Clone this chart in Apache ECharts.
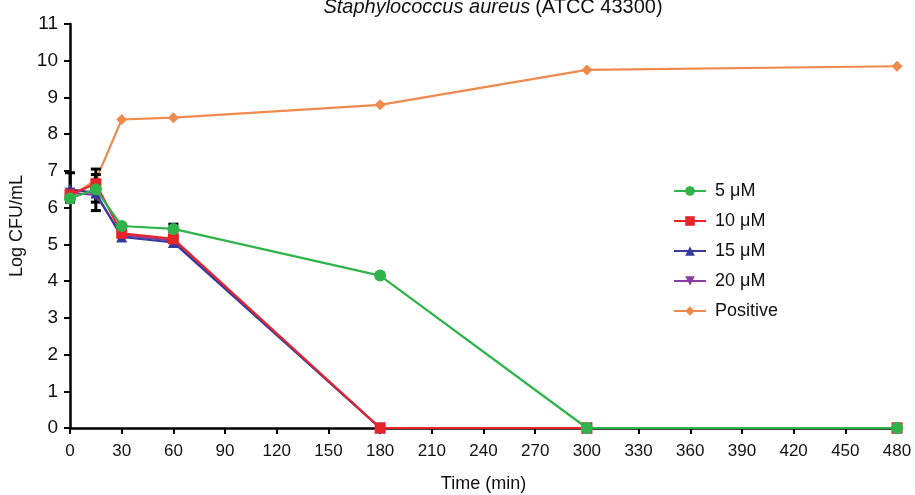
<!DOCTYPE html>
<html>
<head>
<meta charset="utf-8">
<script src="https://cdn.jsdelivr.net/npm/echarts@6/dist/echarts.min.js"></script>
<style>
  html, body { margin: 0; padding: 0; background: #fff; }
  #main { width: 915px; height: 495px; }
</style>
</head>
<body>
<div id="main"></div>
<script>
// time points (min)
const times = [0, 15, 30, 60, 180, 300, 480];

// Log CFU/mL per treatment
const uM5 = [6.25, 6.5, 5.5, 5.42, 4.15, 0, 0];
const uM10 = [6.35, 6.65, 5.3, 5.15, 0, 0, 0];
const uM15 = [6.5, 6.4, 5.2, 5.05, 0, 0, 0];
const uM20 = [6.4, 6.35, 5.25, 5.1, 0, 0, 0];
const positive = [6.3, 6.75, 8.4, 8.45, 8.8, 9.75, 9.85];

// error bars (black) at the early points
const errX = [0, 15, 15, 60];
const errLow = [6.15, 5.92, 6.15, 5.35];
const errHigh = [6.95, 7.05, 6.9, 5.55];

const font = 'Liberation Sans, Arial, sans-serif';
const downTriangle = 'path://M0,0 L10,0 L5,9 Z';

function pairs(vals) {
  return times.map((t, i) => [t, vals[i]]);
}

function lineSeries(name, vals, color, symbol, size, z) {
  return {
    name: name,
    type: 'line',
    data: pairs(vals),
    symbol: symbol,
    symbolSize: size,
    lineStyle: { color: color, width: 2.2 },
    itemStyle: { color: color },
    z: z
  };
}

const chart = echarts.init(document.getElementById('main'), null, { renderer: 'canvas' });

const option = {
  backgroundColor: '#fff',
  animation: false,
  title: {
    text: '{i|Staphylococcus aureus} {n|(ATCC 43300)}',
    left: 488,
    textAlign: 'center',
    top: -8,
    textStyle: {
      fontWeight: 'normal',
      rich: {
        i: { fontStyle: 'italic', fontWeight: 'normal', fontSize: 20, color: '#111', fontFamily: font },
        n: { fontWeight: 'normal', fontSize: 20, color: '#111', fontFamily: font }
      }
    }
  },
  grid: { left: 70, right: 18, top: 24, bottom: 67, outerBoundsMode: 'none' },
  legend: {
    orient: 'vertical',
    left: 668,
    top: 177,
    itemWidth: 32,
    itemHeight: 12,
    itemGap: 12,
    textStyle: { fontSize: 18, color: '#111', fontFamily: font, padding: [0, 0, 0, 4] },
    data: ['5 μM', '10 μM', '15 μM', '20 μM', 'Positive']
  },
  xAxis: {
    type: 'value',
    min: 0,
    max: 480,
    interval: 30,
    name: 'Time (min)',
    nameLocation: 'middle',
    nameGap: 47,
    nameTextStyle: { fontSize: 18, color: '#111', fontFamily: font },
    axisLine: { lineStyle: { color: '#000', width: 2.5 } },
    axisTick: { show: true, length: 6, lineStyle: { color: '#000', width: 2 } },
    axisLabel: { fontSize: 17, color: '#111', fontFamily: font, margin: 15 },
    splitLine: { show: false }
  },
  yAxis: {
    type: 'value',
    min: 0,
    max: 11,
    interval: 1,
    name: 'Log CFU/mL',
    nameLocation: 'middle',
    nameGap: 38,
    nameTextStyle: { fontSize: 18, color: '#111', fontFamily: font },
    axisLine: { show: true, lineStyle: { color: '#000', width: 2.5 } },
    axisTick: { show: true, length: 6, lineStyle: { color: '#000', width: 2 } },
    axisLabel: { fontSize: 19, color: '#111', fontFamily: font, margin: 12 },
    splitLine: { show: false }
  },
  series: [
    lineSeries('Positive', positive, '#ef8a4e', 'diamond', 11, 2),
    lineSeries('20 μM', uM20, '#8a3c9e', downTriangle, 11, 4),
    lineSeries('15 μM', uM15, '#343b9c', 'triangle', 11, 5),
    lineSeries('10 μM', uM10, '#e8242b', 'rect', 11, 6),
    lineSeries('5 μM', uM5, '#2fb34a', 'circle', 12, 7),
    {
      name: 'err',
      type: 'custom',
      z: 3,
      data: errX.map((x, i) => [x, errLow[i], errHigh[i]]),
      renderItem: function (params, api) {
        const lo = api.coord([api.value(0), api.value(1)]);
        const hi = api.coord([api.value(0), api.value(2)]);
        const w = 5;
        const st = { stroke: '#000', lineWidth: 3 };
        return {
          type: 'group',
          children: [
            { type: 'line', shape: { x1: lo[0], y1: lo[1], x2: hi[0], y2: hi[1] }, style: st },
            { type: 'line', shape: { x1: lo[0] - w, y1: lo[1], x2: lo[0] + w, y2: lo[1] }, style: st },
            { type: 'line', shape: { x1: hi[0] - w, y1: hi[1], x2: hi[0] + w, y2: hi[1] }, style: st }
          ]
        };
      }
    }
  ]
};

chart.setOption(option);
</script>
</body>
</html>
